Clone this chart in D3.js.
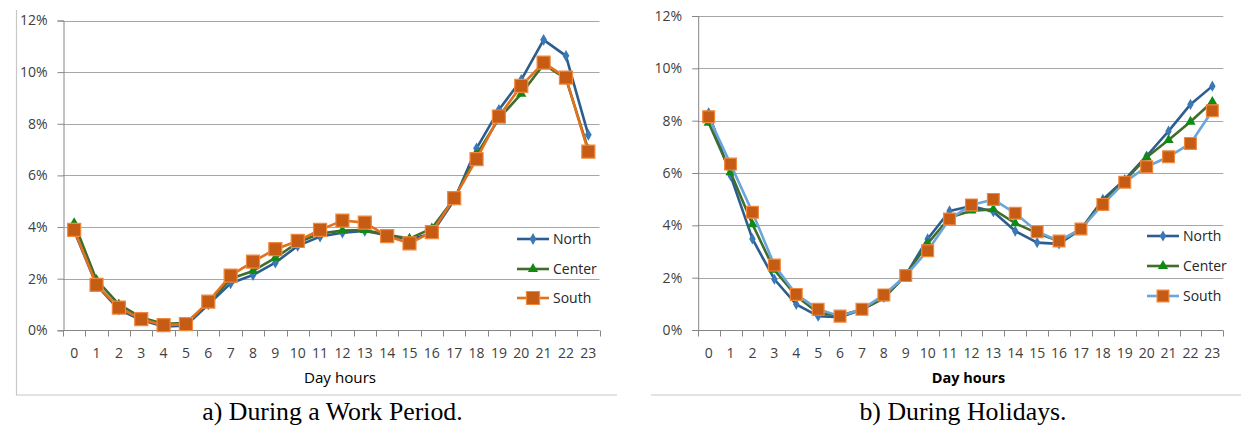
<!DOCTYPE html>
<html>
<head>
<meta charset="utf-8">
<script src="https://cdn.jsdelivr.net/npm/d3@7"></script>
<style>
  html, body { margin: 0; padding: 0; background: #fff; }
  svg { display: block; }
</style>
</head>
<body>
<svg id="chart" width="1242" height="428"></svg>
<script>
// ---- data ----
const hours = d3.range(0, 24);
const yTicks = [0, 0.02, 0.04, 0.06, 0.08, 0.10, 0.12];
const seriesNames = ["North", "Center", "South"];

const workNorth  = [3.85,1.75,0.80,0.40,0.15,0.18,1.00,1.82,2.14,2.62,3.27,3.63,3.78,3.85,3.68,3.52,3.75,5.05,7.05,8.54,9.70,11.25,10.63,7.57];
const workCenter = [4.15,1.95,1.00,0.50,0.25,0.28,1.05,2.00,2.30,2.81,3.40,3.75,3.86,3.88,3.70,3.55,3.95,5.10,6.80,8.20,9.16,10.30,9.75,7.00];
const workSouth  = [3.89,1.76,0.88,0.43,0.20,0.24,1.11,2.12,2.66,3.14,3.46,3.89,4.25,4.17,3.65,3.37,3.80,5.12,6.63,8.28,9.47,10.37,9.79,6.92];

const holNorth  = [8.30,5.90,3.48,1.94,0.98,0.53,0.49,0.78,1.25,2.10,3.48,4.55,4.74,4.52,3.78,3.34,3.29,3.85,4.99,5.75,6.65,7.60,8.62,9.32];
const holCenter = [7.92,6.03,4.04,2.30,1.30,0.65,0.55,0.78,1.21,2.10,3.30,4.30,4.56,4.61,4.08,3.70,3.40,3.85,4.90,5.70,6.60,7.26,7.96,8.72];
const holSouth  = [8.15,6.34,4.50,2.48,1.36,0.79,0.53,0.79,1.34,2.08,3.03,4.24,4.78,4.99,4.46,3.76,3.40,3.86,4.80,5.65,6.24,6.62,7.13,8.38];

const captions = ["a) During a Work Period.", "b) During Holidays."];
const xTitle = "Day hours";

// ---- drawing ----
const svg = d3.select("#chart");
const tickFont = "'Open Sans', 'Liberation Sans', sans-serif";

function drawPanel(cfg) {
  const g = svg.append("g");
  const x = d3.scaleBand().domain(hours).range([cfg.left, cfg.right]);
  const y = d3.scaleLinear().domain([0, 0.12]).range([cfg.bottom, cfg.top]);

  // frame
  if (cfg.frameLeft !== null) {
    g.append("line").attr("x1", cfg.frameLeft).attr("x2", cfg.frameLeft)
      .attr("y1", cfg.frameTop).attr("y2", cfg.frameBottom)
      .attr("stroke", "#c8c8c8").attr("stroke-width", 1.2);
  }
  g.append("line").attr("x1", cfg.frameX1).attr("x2", cfg.frameX2)
    .attr("y1", cfg.frameBottom).attr("y2", cfg.frameBottom)
    .attr("stroke", "#c8c8c8").attr("stroke-width", 1.2);

  // gridlines
  g.append("g").selectAll("line").data(yTicks.filter(d => d > 0)).join("line")
    .attr("x1", cfg.left).attr("x2", cfg.right)
    .attr("y1", d => Math.round(y(d)) + 0.5).attr("y2", d => Math.round(y(d)) + 0.5)
    .attr("stroke", "#a6a6a6").attr("stroke-width", 1);

  // y axis
  const yAxis = d3.axisLeft(y).tickValues(yTicks).tickFormat(d3.format(".0%"))
    .tickSize(6).tickPadding(10);
  const ya = g.append("g").attr("transform", `translate(${cfg.left + 0.5},0)`).call(yAxis);
  ya.select(".domain").attr("stroke", "#868686");
  ya.selectAll(".tick line").attr("stroke", "#868686");
  ya.selectAll(".tick text").attr("font-family", tickFont).attr("font-size", 14)
    .attr("fill", "#404040");

  // x axis with ticks at band boundaries
  const xa = g.append("g").attr("transform", `translate(0,${Math.round(cfg.bottom) + 0.5})`);
  xa.append("line").attr("x1", cfg.left).attr("x2", cfg.right)
    .attr("stroke", "#868686");
  const bounds = hours.map(h => x(h)).concat([x(hours[hours.length - 1]) + x.bandwidth()]);
  xa.selectAll("line.tk").data(bounds).join("line").attr("class", "tk")
    .attr("x1", d => Math.round(d) + 0.5).attr("x2", d => Math.round(d) + 0.5)
    .attr("y1", 0).attr("y2", 6).attr("stroke", "#868686");
  xa.selectAll("text").data(hours).join("text")
    .attr("x", d => x(d) + x.bandwidth() / 2).attr("y", 27)
    .attr("text-anchor", "middle").attr("font-family", tickFont).attr("font-size", 14)
    .attr("fill", "#404040").text(d => d);

  // axis title
  g.append("text").attr("x", cfg.titleX).attr("y", cfg.bottom + 53)
    .attr("text-anchor", "middle").attr("font-family", tickFont)
    .attr("font-size", cfg.titleBold ? 14.5 : 15.2)
    .attr("font-weight", cfg.titleBold ? "bold" : "normal")
    .attr("fill", "#000").text(xTitle);

  // caption
  g.append("text").attr("x", cfg.captionX).attr("y", 420)
    .attr("text-anchor", "middle").attr("font-family", "'Liberation Serif', 'Times New Roman', serif")
    .attr("font-size", 25.8).attr("fill", "#000").text(cfg.caption);

  const cx = h => x(h) + x.bandwidth() / 2;
  const line = d3.line().x((d, i) => cx(hours[i])).y(d => y(d / 100));

  const styles = [
    { name: "North", data: cfg.data[0], stroke: "#2c5d8f", marker: "diamond", fill: "#3b78b8", size: cfg.diamondSize },
    { name: "Center", data: cfg.data[1], stroke: "#416d2c", marker: "triangle", fill: "#0f8a12", size: cfg.triSize },
    { name: "South", data: cfg.data[2], stroke: cfg.southStroke, marker: "square", fill: "#c65b14", size: cfg.squareSize }
  ];

  function markerPath(type, s) {
    if (type === "diamond") return d3.symbol().type(d3.symbolDiamond).size(s)();
    if (type === "triangle") return d3.symbol().type(d3.symbolTriangle).size(s)();
    const h = Math.sqrt(s) / 2;
    return `M${-h},${-h}H${h}V${h}H${-h}Z`;
  }

  styles.forEach(st => {
    g.append("path").datum(st.data).attr("d", line)
      .attr("fill", "none").attr("stroke", st.stroke).attr("stroke-width", 2.6)
      .attr("stroke-linejoin", "round");
    g.append("g").selectAll("path").data(st.data).join("path")
      .attr("transform", (d, i) => `translate(${cx(hours[i])},${y(d / 100)})`)
      .attr("d", markerPath(st.marker, st.size))
      .attr("fill", st.fill)
      .attr("stroke", st.marker === "square" ? "#f0883e" : "none")
      .attr("stroke-width", 1.2);
  });

  // legend
  styles.forEach((st, i) => {
    const ly = cfg.legendY[i];
    g.append("line").attr("x1", cfg.legendX).attr("x2", cfg.legendX + 32)
      .attr("y1", ly).attr("y2", ly).attr("stroke", st.stroke).attr("stroke-width", 2.6);
    g.append("path").attr("transform", `translate(${cfg.legendX + 16},${ly})`)
      .attr("d", markerPath(st.marker, st.size))
      .attr("fill", st.fill)
      .attr("stroke", st.marker === "square" ? "#f0883e" : "none").attr("stroke-width", 1.2);
    g.append("text").attr("x", cfg.legendX + 36).attr("y", ly).attr("dy", "0.35em")
      .attr("font-family", tickFont).attr("font-size", 14).attr("fill", "#262626")
      .text(seriesNames[i]);
  });
}

drawPanel({
  left: 63, right: 599.5, top: 20.5, bottom: 330.3,
  frameLeft: 16.5, frameTop: 10, frameBottom: 395, frameX1: 16, frameX2: 617,
  titleX: 340, captionX: 332.5, titleBold: false, caption: captions[0],
  data: [workNorth, workCenter, workSouth], southStroke: "#e2701c",
  diamondSize: 40, triSize: 45, squareSize: 170,
  legendX: 517, legendY: [239, 269, 298]
});

drawPanel({
  left: 697.7, right: 1223.3, top: 16, bottom: 330,
  frameLeft: null, frameTop: 10, frameBottom: 395, frameX1: 651, frameX2: 1241,
  titleX: 968.5, captionX: 963, titleBold: true, caption: captions[1],
  data: [holNorth, holCenter, holSouth], southStroke: "#6aa6dc",
  diamondSize: 36, triSize: 45, squareSize: 140,
  legendX: 1147, legendY: [236, 266, 296]
});
</script>
</body>
</html>
